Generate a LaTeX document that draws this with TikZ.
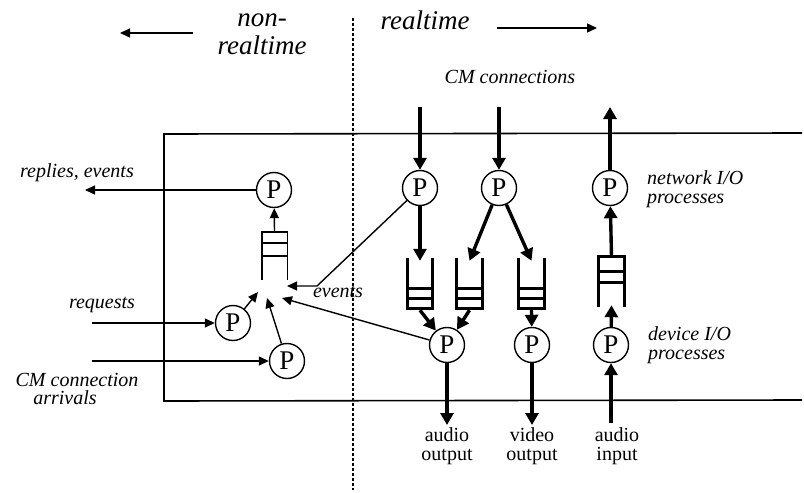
\documentclass[tikz,border=0pt]{standalone}
\usepackage{fontspec}
\setmainfont{Liberation Serif}
\usetikzlibrary{arrows.meta}
\tikzset{
  proc/.style={circle,draw,line width=1.4pt,minimum size=35pt,inner sep=0pt,font=\fontsize{27}{27}\selectfont},
  lbl/.style={font=\fontsize{20}{19}\selectfont\itshape,align=left,inner sep=0pt},
  rlbl/.style={font=\fontsize{20}{19}\selectfont,align=center,inner sep=0pt},
  big/.style={font=\fontsize{27}{28}\selectfont\itshape,align=center,inner sep=0pt},
  thinarr/.style={line width=1.4pt,-{Triangle[length=10pt,width=9pt]}},
  thickarr/.style={line width=3.4pt,-{Triangle[length=12pt,width=13pt]}},
  qbox/.style={rectangle,minimum width=25pt,inner sep=0pt,draw=none},
  qthick/.style={line width=3.2pt},
  qthin/.style={line width=1.4pt},
  frame/.style={line width=1.6pt},
  divider/.style={line width=1.1pt,dash pattern=on 3pt off 2pt},
}
\begin{document}
\begin{tikzpicture}[x=1pt,y=-1pt]
\useasboundingbox (0,0) rectangle (804,493);

% headings
\node[big] (nonrt) at (262,34) {non-\\realtime};
\coordinate (la1) at (193,33);
\coordinate (la2) at (120,33);
\draw[thinarr] (la1) -- (la2);
\node[big] (rt) at (425,20) {realtime};
\coordinate (ra1) at (497,28);
\coordinate (ra2) at (597,28);
\draw[thinarr] (ra1) -- (ra2);
\node[lbl] (cmc) at (510,77) {CM connections};

% divider and frame
\coordinate (d1) at (353,18);
\coordinate (d2) at (353,490);
\draw[divider] (d1) -- (d2);
\draw[frame] (802,133) -- (164,134) -- (164,401) -- (802,400);

% non-realtime part
\node[proc] (preply) at (274,190) {P};
\node[qbox,minimum height=48pt] (qn) at (274.5,256) {};
\draw[qthin] (qn.south west) -- (qn.north west) -- (qn.north east) -- (qn.south east);
\draw[qthin] ([yshift=-11pt]qn.north west) -- ([yshift=-11pt]qn.north east);
\draw[qthin] ([yshift=-24pt]qn.north west) -- ([yshift=-24pt]qn.north east);
\draw[thinarr] (qn.north) -- (preply);
\coordinate (replyout) at (85,190);
\draw[thinarr] (preply) -- (replyout);
\node[lbl] (replbl) at (77,173) {replies, events};

\node[proc] (preq) at (233,323) {P};
\node[proc] (pcm) at (287,361) {P};
\coordinate (reqin) at (92,323);
\coordinate (cmin) at (92,361);
\draw[thinarr] (reqin) -- (preq);
\draw[thinarr] (cmin) -- (pcm);
\node[lbl] (reqlbl) at (102,305) {requests};
\node[lbl] (cmlbl1) at (77,380) {CM connection};
\node[lbl] (cmlbl2) at (65,398) {arrivals};

\coordinate (cA) at (258,292);
\coordinate (cB) at (267,298);
\coordinate (cC) at (287,286);
\coordinate (cD) at (282,298);
\coordinate (evc) at (317,286);
\draw[thinarr] (preq) -- (cA);
\draw[thinarr] (pcm) -- (cB);
\node[lbl] (evlbl) at (338,292) {events};

% realtime part
\node[proc] (p1) at (420,188) {P};
\node[proc] (p2) at (499,188) {P};
\node[proc] (p3) at (610,188) {P};
\coordinate (t1) at (420,107);
\coordinate (t2) at (499,107);
\coordinate (t3) at (610,107);
\draw[thickarr] (t1) -- (p1);
\draw[thickarr] (t2) -- (p2);
\draw[thickarr] (p3) -- (t3);
\node[lbl,anchor=west] (netlbl) at (647,189) {network I/O\\processes};

\node[qbox,minimum height=50pt] (q1) at (420,283) {};
\node[qbox,minimum height=50pt] (q2) at (469.5,283) {};
\node[qbox,minimum height=50pt] (q3) at (531.5,283) {};
\node[qbox,minimum height=50pt] (q4) at (611.5,282) {};
\foreach \q in {q1,q2,q3}{
  \draw[qthick] (\q.north west) -- (\q.south west) -- (\q.south east) -- (\q.north east);
  \draw[qthick] ([yshift=10pt]\q.south west) -- ([yshift=10pt]\q.south east);
  \draw[qthick] ([yshift=20pt]\q.south west) -- ([yshift=20pt]\q.south east);
}
\draw[qthick] (q4.south west) -- (q4.north west) -- (q4.north east) -- (q4.south east);
\draw[qthick] ([yshift=-15pt]q4.north west) -- ([yshift=-15pt]q4.north east);
\draw[qthick] ([yshift=-26pt]q4.north west) -- ([yshift=-26pt]q4.north east);

\draw[thickarr] (p1) -- ([yshift=-3pt]q1.north);
\draw[thickarr] (p2) -- ([yshift=-3pt]q2.north);
\draw[thickarr] (p2) -- ([yshift=-3pt]q3.north);

\node[proc] (paudio) at (447,345) {P};
\node[proc] (pvideo) at (532,345) {P};
\node[proc] (pain) at (611,345) {P};
\draw[thickarr] ([yshift=-2pt]q1.south) -- (paudio);
\draw[thickarr] ([yshift=-2pt]q2.south) -- (paudio);
\draw[thickarr] ([yshift=-2pt]q3.south) -- (pvideo);
\draw[thickarr] (pain) -- ([yshift=2pt]q4.south);
\draw[thickarr] (q4.north) -- (p3);

\coordinate (o1) at (447,425);
\coordinate (o2) at (532,425);
\coordinate (i3) at (611,423);
\draw[thickarr] (paudio) -- (o1);
\draw[thickarr] (pvideo) -- (o2);
\draw[thickarr] (i3) -- (pain);
\node[rlbl] (aolbl) at (447,446) {audio\\output};
\node[rlbl] (volbl) at (532,446) {video\\output};
\node[rlbl] (ailbl) at (617,446) {audio\\input};
\node[lbl,anchor=west] (devlbl) at (648,345) {device I/O\\processes};

% event lines
\draw[thinarr] (p1) -- (evc) -- (cC);
\draw[thinarr] (paudio) -- (cD);
\end{tikzpicture}
\end{document}
